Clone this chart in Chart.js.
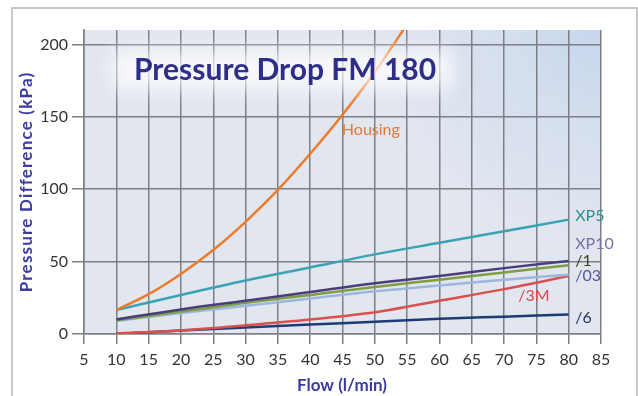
<!DOCTYPE html>
<html>
<head>
<meta charset="utf-8">
<script src="https://cdn.jsdelivr.net/npm/chart.js"></script>
<style>
  html, body { margin: 0; padding: 0; background: #fff; }
  #wrap { width: 638px; height: 396px; position: relative; }
</style>
</head>
<body>
<div id="wrap"><canvas id="chart" width="638" height="396"></canvas></div>
<script>
    // Flow values (l/min) shared by the filter curves
    const flow = [10, 20, 30, 40, 50, 60, 70, 80];
    const housingFlow = [10, 15, 20, 25, 30, 35, 40, 45, 50, 55];

    // Pressure difference (kPa)
    const housing = [16.5, 27.5, 41.5, 58, 77.5, 99.5, 124.5, 151.5, 181, 214];
    const xp5 = [16.5, 27, 37, 46, 55, 63, 71, 79];
    const xp10 = [10, 17, 23, 29, 35, 40, 45.5, 50.5];
    const f1 = [9.5, 15.5, 21.5, 27, 32.5, 37.5, 42.5, 47.5];
    const f03 = [9, 14.5, 19.5, 24.5, 29.5, 33.5, 37.5, 41];
    const f3m = [0.5, 2.5, 6, 10, 15, 23, 31, 40];
    const f6 = [0, 2.5, 4.5, 6.5, 8.5, 10.5, 12, 13.5];

    const xTicks = [5, 10, 15, 20, 25, 30, 35, 40, 45, 50, 55, 60, 65, 70, 75, 80, 85];
    const yTicks = [0, 50, 100, 150, 200];

    // Curve labels, placed in data units
    const labels = [
        { text: 'Housing', x: 44.9, y: 141, color: '#e07a35' },
        { text: 'XP5', x: 81, y: 81.5, color: '#2e8e88' },
        { text: 'XP10', x: 81, y: 62, color: '#7472a8' },
        { text: '/1', x: 81, y: 50.4, color: '#3e3e22' },
        { text: '/03', x: 81, y: 40, color: '#56569e' },
        { text: '/3M', x: 72.2, y: 26.2, color: '#e04848' },
        { text: '/6', x: 81, y: 11, color: '#283264' }
    ];

    function pairs(xs, ys) {
        return xs.map((x, i) => ({ x: x, y: ys[i] }));
    }

    function line(label, xs, ys, color) {
        return {
            label: label,
            data: pairs(xs, ys),
            borderColor: color,
            borderWidth: 2.5,
            pointRadius: 0,
            cubicInterpolationMode: 'monotone',
            fill: false
        };
    }

    // Plot background, frame, title and curve labels
    const backdrop = {
        id: 'backdrop',
        beforeDraw(chart) {
            const ctx = chart.ctx;
            const a = chart.chartArea;
            ctx.save();
            ctx.fillStyle = '#ffffff';
            ctx.fillRect(0, 0, chart.width, chart.height);
            ctx.strokeStyle = '#b8b8b8';
            ctx.lineWidth = 1.5;
            ctx.strokeRect(12, 8, 625, 400);

            ctx.fillStyle = '#e2e6ef';
            ctx.fillRect(a.left, a.top, a.right - a.left, a.bottom - a.top);
            const g = ctx.createRadialGradient(a.right, a.top, 0, a.right, a.top, 260);
            g.addColorStop(0, 'rgba(196,213,237,0.95)');
            g.addColorStop(0.55, 'rgba(210,221,238,0.5)');
            g.addColorStop(1, 'rgba(226,230,239,0)');
            ctx.fillStyle = g;
            ctx.fillRect(a.left, a.top, a.right - a.left, a.bottom - a.top);
            ctx.restore();
        },
        afterDatasetsDraw(chart) {
            const ctx = chart.ctx;
            const xs = chart.scales.x;
            const ys = chart.scales.y;
            ctx.save();

            // soft white glow behind the title, over the lines
            ctx.filter = 'blur(9px)';
            ctx.fillStyle = 'rgba(255,255,255,0.7)';
            ctx.fillRect(112, 50, 340, 40);
            ctx.filter = 'none';

            ctx.textBaseline = 'middle';
            ctx.textAlign = 'left';
            ctx.font = '16px Lato';
            labels.forEach(l => {
                ctx.fillStyle = l.color;
                ctx.fillText(l.text, xs.getPixelForValue(l.x), ys.getPixelForValue(l.y));
            });

            ctx.fillStyle = '#2e2e88';
            ctx.font = 'bold 30px Lato';
            ctx.fillText('Pressure Drop FM 180', 134, 70);

            ctx.fillStyle = '#3b3ba0';
            ctx.font = 'bold 17px Lato';
            ctx.textAlign = 'center';
            ctx.fillText('Flow (l/min)', 342, 386);
            ctx.translate(27, 182);
            ctx.rotate(-Math.PI / 2);
            ctx.letterSpacing = '1.2px';
            ctx.fillText('Pressure Difference (kPa)', 0, 0);
            ctx.restore();
        }
    };

    const gridColor = '#7d7f86';

    new Chart(document.getElementById('chart'), {
        type: 'line',
        data: {
            datasets: [
                line('Housing', housingFlow, housing, '#ec7b2c'),
                line('XP5', flow, xp5, '#3ba2b6'),
                line('XP10', flow, xp10, '#4b3c7c'),
                line('/1', flow, f1, '#7e9e42'),
                line('/03', flow, f03, '#9cb6de'),
                line('/3M', flow, f3m, '#d9514f'),
                line('/6', flow, f6, '#1e3b78')
            ]
        },
        options: {
            responsive: false,
            animation: false,
            layout: { padding: { left: 0, right: 37, top: 30, bottom: 0 } },
            plugins: {
                legend: { display: false },
                tooltip: { enabled: false }
            },
            scales: {
                x: {
                    type: 'linear',
                    min: 5,
                    max: 85,
                    afterFit(s) { s.height = 62; },
                    afterBuildTicks(s) { s.ticks = xTicks.map(v => ({ value: v })); },
                    grid: { color: gridColor, lineWidth: 1.5, tickLength: 10 },
                    border: { color: gridColor, width: 1.5 },
                    ticks: {
                        padding: 6,
                        maxRotation: 0,
                        autoSkip: false,
                        color: '#333333',
                        font: { family: 'Lato', size: 16 }
                    }
                },
                y: {
                    min: 0,
                    max: 210,
                    afterFit(s) { s.width = 84; },
                    afterBuildTicks(s) { s.ticks = yTicks.map(v => ({ value: v })); },
                    grid: { color: gridColor, lineWidth: 1.5, tickLength: 12 },
                    border: { color: gridColor, width: 1.5 },
                    ticks: {
                        padding: 4,
                        color: '#333333',
                        font: { family: 'Lato', size: 16 }
                    }
                }
            }
        },
        plugins: [backdrop]
    });
</script>
</body>
</html>
